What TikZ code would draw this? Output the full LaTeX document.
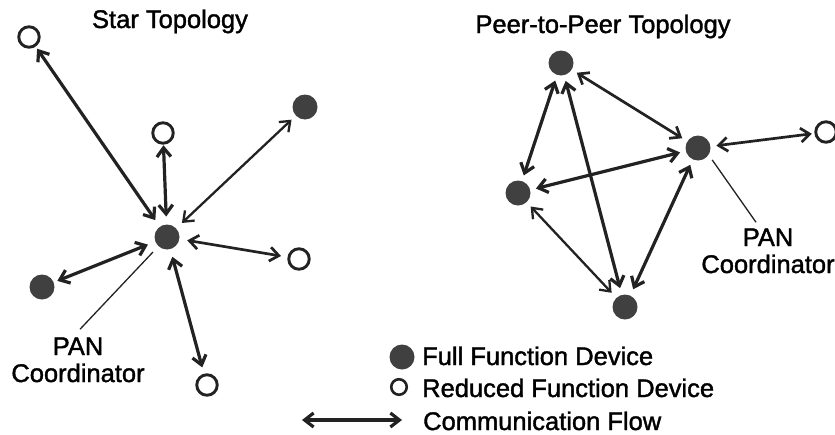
\documentclass[tikz,border=0pt]{standalone}
\usepackage{fontspec}
\setmainfont{Liberation Sans}[FakeBold=1.5]
\usepackage{xcolor}
\usepackage{tikz}
\usetikzlibrary{arrows.meta}
\definecolor{ffdgray}{RGB}{64,64,64}
\definecolor{flowgray}{RGB}{34,34,34}
\newcommand{\diagfont}{\fontsize{25.5pt}{27pt}\selectfont}
\tikzset{
  ffd/.style={circle,fill=ffdgray,minimum size=25pt,inner sep=0pt,outer sep=4pt},
  rfd/.style={circle,draw=flowgray,line width=2.9pt,minimum size=20.5pt,inner sep=0pt,outer sep=4pt},
  flow/.style={{Straight Barb[length=9pt,width=14pt]}-{Straight Barb[length=9pt,width=14pt]},draw=flowgray,line width=3.2pt},
  thinflow/.style={flow,line width=2.3pt},
  leader/.style={draw=flowgray,line width=1.3pt},
  lbl/.style={font=\diagfont,text=black,inner sep=3pt}
}
\begin{document}
\begin{tikzpicture}[x=1pt,y=-1pt]
\useasboundingbox (0,0) rectangle (835,434);
% Titles
\node[lbl,anchor=base] (startitle) at (170,28) {Star Topology};
\node[lbl,anchor=base] (peertitle) at (603,33) {Peer-to-Peer Topology};
% Star topology devices
\node[ffd,outer sep=8pt] (sc) at (167,237) {};
\node[rfd] (s1) at (29,37) {};
\node[rfd,outer sep=2pt] (s2) at (163,133) {};
\node[ffd,outer sep=6pt] (s3) at (305,107) {};
\node[rfd,outer sep=8pt] (s4) at (299,259) {};
\node[ffd] (s5) at (42,287) {};
\node[rfd,outer sep=8pt] (s6) at (207,385) {};
% Star topology flows
\draw[flow] (s1) -- (sc);
\draw[flow] (s2) -- (sc);
\draw[thinflow] (s3) -- (sc);
\draw[thinflow,line width=2.7pt] (s4) -- (sc);
\draw[flow] (s5) -- (sc);
\draw[flow] (s6) -- (sc);
% Star coordinator label
\node[lbl,align=center,anchor=base] (starlbl) at (78,382) {PAN\\Coordinator};
\draw[leader] (sc.-133) -- ([xshift=2pt,yshift=5pt]starlbl.north);
% Peer-to-peer topology devices
\node[ffd,outer sep=6pt] (pt) at (561,63) {};
\node[ffd,outer sep=6pt] (pc) at (698,148) {};
\node[ffd,outer sep=6pt] (pl) at (518,193) {};
\node[ffd,outer sep=7pt] (pb) at (625,307) {};
\node[rfd] (pr) at (826,132) {};
% Peer-to-peer flows
\draw[thinflow,line width=2.7pt] (pt) -- (pc);
\draw[flow] (pt) -- (pl);
\draw[flow] (pt) -- (pb);
\draw[flow] (pc) -- (pl);
\draw[thinflow] (pl) -- (pb);
\draw[flow] (pc) -- (pb);
\draw[thinflow,line width=2.7pt] (pc) -- (pr);
% Peer coordinator label
\node[lbl,align=center,anchor=base] (peerlbl) at (768,273) {PAN\\Coordinator};
\draw[leader] (pc.-40) -- ([xshift=-12pt,yshift=3pt]peerlbl.north);
% Legend
\node[ffd] (keyffd) at (402,357) {};
\node[rfd,line width=2.6pt,minimum size=15.5pt] (keyrfd) at (399,387) {};
\coordinate (keyw) at (302,420);
\coordinate (keye) at (402,420);
\draw[flow] (keyw) -- (keye);
\node[lbl,anchor=base west] (keyffdtxt) at (419,365) {Full Function Device};
\node[lbl,anchor=base west] (keyrfdtxt) at (419,397) {Reduced Function Device};
\node[lbl,anchor=base west] (keyflowtxt) at (420,430) {Communication Flow};
\end{tikzpicture}
\end{document}
